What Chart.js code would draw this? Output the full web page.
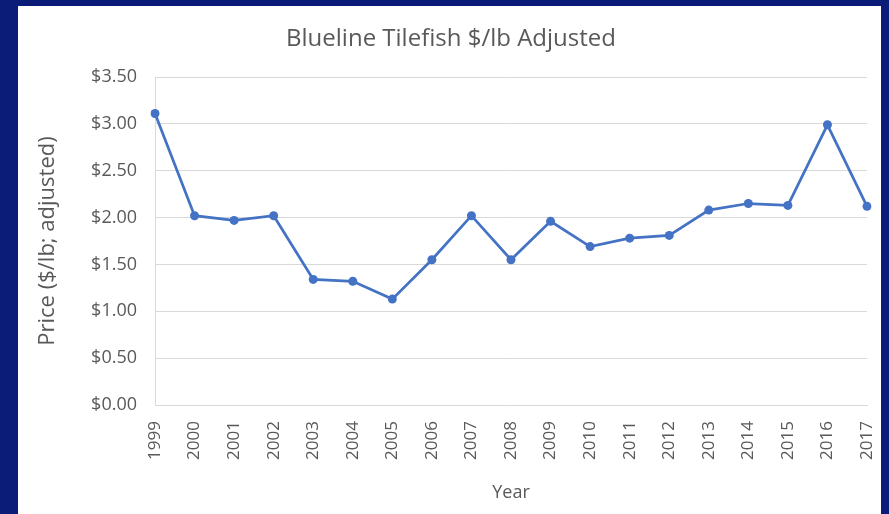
<!DOCTYPE html>
<html>
<head>
<meta charset="utf-8">
<script src="https://cdn.jsdelivr.net/npm/chart.js@4"></script>
<style>
  html, body { margin: 0; padding: 0; background: #0b1b78; width: 889px; height: 514px; overflow: hidden; }
  #panel { position: absolute; left: 18px; top: 6px; width: 863px; height: 508px; background: #ffffff; }
</style>
</head>
<body>
<div id="panel"><canvas id="grafico-preco"></canvas></div>
<script>
const years = ["1999","2000","2001","2002","2003","2004","2005","2006","2007","2008","2009","2010","2011","2012","2013","2014","2015","2016","2017"];
const prices = [3.11, 2.02, 1.97, 2.02, 1.34, 1.32, 1.13, 1.55, 2.02, 1.55, 1.96, 1.69, 1.78, 1.81, 2.08, 2.15, 2.13, 2.99, 2.12];

const fontFamily = "'Open Sans', 'Liberation Sans', sans-serif";
const textGray = "#595959";

const ctxPreco = document.getElementById("grafico-preco").getContext("2d");
const chartPreco = {
  labels: years,
  datasets: [{
    label: "Price",
    data: prices,
    borderColor: "#4472C4",
    backgroundColor: "#4472C4",
    borderWidth: 2.75,
    pointRadius: 4.5,
    pointBorderWidth: 0,
    tension: 0,
    fill: false,
  }],
};
const precoConfig = {
  type: "line",
  data: chartPreco,
  options: {
    responsive: false,
    animation: false,
    layout: { padding: { left: 17, right: 14, top: 0, bottom: 0 } },
    scales: {
      x: {
        offset: false,
        grid: { display: false },
        border: { display: true, color: "#d9d9d9" },
        ticks: { color: textGray, font: { family: fontFamily, size: 17 }, minRotation: 90, maxRotation: 90, padding: 8 },
        title: { display: true, text: "Year", color: textGray, font: { family: fontFamily, size: 18 }, padding: { top: 10, bottom: 10 } },
        afterFit: (scale) => {
          scale.height = 109;
          scale.paddingLeft = 0;
          scale.paddingRight = 0;
        },
      },
      y: {
        min: 0,
        max: 3.5,
        grid: { color: "#d9d9d9", drawTicks: false },
        border: { display: true, color: "#d9d9d9" },
        ticks: {
          stepSize: 0.5,
          padding: 18,
          color: textGray,
          font: { family: fontFamily, size: 18 },
          callback: (v) => "$" + Number(v).toFixed(2),
        },
        title: { display: true, text: "Price ($/lb; adjusted)", color: textGray, font: { family: fontFamily, size: 22 }, padding: { top: 0, bottom: 0 } },
        afterFit: (scale) => { scale.width = 120; },
      },
    },
    plugins: {
      legend: { display: false },
      tooltip: { enabled: false },
      title: {
        display: true,
        text: "Blueline Tilefish $/lb Adjusted",
        color: textGray,
        font: { family: fontFamily, size: 24, weight: "normal" },
        padding: { top: 18.6, bottom: 23.6 },
      },
    },
  },
};
const canvas = document.getElementById("grafico-preco");
canvas.width = 863;
canvas.height = 508;
const graficoPreco = new Chart(ctxPreco, precoConfig);
</script>
</body>
</html>
